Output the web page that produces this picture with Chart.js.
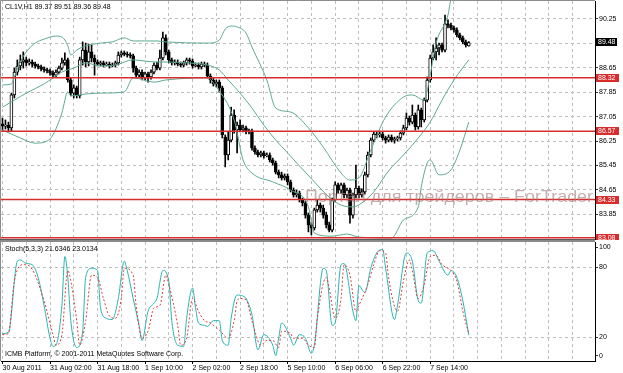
<!DOCTYPE html>
<html>
<head>
<meta charset="utf-8">
<title>CL1V,H1</title>
<script src="https://cdn.jsdelivr.net/npm/chart.js@4.4.1/dist/chart.umd.min.js"></script>
<style>
  body { margin: 0; background: #fff; }
  canvas { position: absolute; left: 0; }
  #priceCanvas { top: 0; }
  #stochCanvas { top: 240px; }
</style>
</head>
<body>
<canvas id="priceCanvas" width="623" height="240"></canvas>
<canvas id="stochCanvas" width="623" height="133"></canvas>
<script>
// CL1V H1 candles, one per hour (index 0 = first bar on the left)
const opens = [
  86.81, 86.74, 86.77, 86.68, 87.76, 88.51, 88.71, 88.84, 88.91, 88.81,
  88.84, 88.77, 88.71, 88.68, 88.61, 88.58, 88.55, 88.48, 88.41, 88.51,
  88.64, 88.81, 88.91, 88.25, 87.82, 87.99, 87.73, 88.91, 89.23, 88.84,
  89.17, 88.97, 88.84, 88.77, 88.81, 88.74, 88.77, 88.71, 88.74, 88.81,
  89.07, 89.14, 89.10, 89.07, 89.04, 88.64, 88.41, 88.51, 88.32, 88.45,
  88.35, 88.51, 88.74, 88.64, 88.97, 89.63, 89.17, 88.91, 88.81, 88.84,
  88.77, 88.74, 88.81, 88.91, 88.87, 88.71, 88.74, 88.68, 88.77, 88.74,
  88.38, 88.25, 88.12, 88.18, 87.99, 86.38, 85.79, 86.28, 87.10, 86.61,
  86.77, 86.61, 86.68, 86.55, 86.58, 86.02, 85.89, 85.79, 85.86, 85.76,
  85.79, 85.63, 85.53, 85.23, 85.14, 85.04, 85.10, 84.91, 84.64, 84.48,
  84.54, 84.32, 84.22, 83.82, 83.50, 83.40, 83.99, 84.15, 84.05, 83.82,
  83.50, 83.33, 84.32, 84.81, 84.64, 84.81, 84.48, 84.64, 83.82, 84.48,
  84.71, 84.48, 84.58, 85.14, 85.79, 86.28, 86.48, 86.45, 86.48, 86.35,
  86.28, 86.38, 86.28, 86.32, 86.35, 86.51, 86.68, 87.00, 86.87, 87.10,
  86.71, 87.27, 86.94, 87.59, 88.25, 88.97, 89.17, 89.30, 89.40, 89.23,
  90.09, 90.05, 89.96, 89.89, 89.73, 89.63, 89.50, 89.37
];
const highs = [
  87.00, 86.94, 86.87, 87.82, 88.64, 88.91, 89.07, 89.17, 89.00, 88.94,
  88.91, 88.84, 88.77, 88.74, 88.68, 88.64, 88.61, 88.55, 88.58, 88.71,
  88.97, 89.14, 88.97, 88.32, 88.09, 88.05, 89.00, 89.50, 89.46, 89.43,
  89.40, 89.07, 88.91, 88.87, 88.87, 88.84, 88.84, 88.81, 88.87, 89.17,
  89.20, 89.20, 89.17, 89.14, 89.10, 88.71, 88.58, 88.58, 88.51, 88.51,
  88.58, 88.81, 88.84, 89.23, 89.82, 89.73, 89.23, 88.97, 88.91, 88.91,
  88.84, 88.87, 88.97, 88.97, 88.94, 88.81, 88.81, 88.84, 88.84, 88.81,
  88.45, 88.32, 88.25, 88.25, 88.05, 86.45, 86.55, 87.36, 87.27, 86.87,
  86.94, 86.77, 86.74, 86.64, 86.64, 86.09, 85.95, 85.92, 85.92, 85.86,
  85.86, 85.69, 85.59, 85.30, 85.23, 85.17, 85.17, 84.97, 84.71, 84.64,
  84.61, 84.38, 84.28, 83.89, 83.59, 84.05, 84.32, 84.22, 84.15, 83.92,
  83.59, 84.38, 84.91, 84.87, 84.87, 84.87, 84.71, 84.71, 84.54, 85.46,
  84.77, 84.68, 85.23, 85.89, 86.35, 86.55, 86.55, 86.55, 86.55, 86.41,
  86.45, 86.45, 86.38, 86.41, 86.58, 86.77, 87.17, 87.07, 87.43, 87.17,
  87.43, 87.33, 87.66, 88.35, 89.07, 89.40, 89.63, 89.46, 89.46, 90.38,
  90.22, 90.12, 90.02, 89.96, 89.79, 89.69, 89.56, 89.51
];
const lows = [
  86.61, 86.64, 86.55, 86.58, 87.66, 88.41, 88.58, 88.64, 88.71, 88.74,
  88.68, 88.64, 88.61, 88.55, 88.51, 88.48, 88.41, 88.35, 88.35, 88.45,
  88.58, 88.74, 88.18, 87.73, 87.66, 87.66, 87.66, 88.74, 88.68, 88.71,
  88.84, 88.41, 88.71, 88.71, 88.68, 88.71, 88.64, 88.68, 88.68, 88.74,
  89.00, 89.04, 89.00, 88.97, 88.51, 88.32, 88.35, 88.25, 88.25, 88.18,
  88.28, 88.45, 88.58, 88.58, 88.91, 89.07, 88.81, 88.74, 88.74, 88.71,
  88.68, 88.68, 88.74, 88.77, 88.64, 88.68, 88.61, 88.61, 88.68, 88.32,
  88.15, 88.05, 88.02, 87.86, 86.35, 85.40, 85.63, 86.22, 86.51, 85.86,
  86.55, 86.55, 86.48, 86.48, 85.95, 85.82, 85.73, 85.73, 85.69, 85.73,
  85.56, 85.46, 85.17, 85.04, 84.97, 84.97, 84.81, 84.58, 84.41, 84.41,
  84.25, 84.12, 83.72, 83.27, 83.17, 83.33, 83.92, 83.92, 83.72, 83.40,
  83.27, 83.27, 84.25, 84.54, 84.54, 84.38, 84.38, 83.56, 83.72, 84.38,
  84.38, 84.41, 84.51, 85.07, 85.73, 86.22, 86.35, 86.38, 86.28, 86.18,
  86.22, 86.22, 86.18, 86.25, 86.28, 86.45, 86.61, 86.77, 86.81, 86.61,
  86.64, 86.71, 86.87, 87.53, 88.18, 88.91, 88.91, 89.07, 89.17, 89.17,
  89.96, 89.89, 89.82, 89.66, 89.56, 89.43, 89.33, 89.36
];
const closes = [
  86.74, 86.77, 86.68, 87.76, 88.51, 88.71, 88.84, 88.91, 88.81, 88.84,
  88.77, 88.71, 88.68, 88.61, 88.58, 88.55, 88.48, 88.41, 88.51, 88.64,
  88.81, 88.91, 88.25, 87.82, 87.99, 87.76, 88.91, 89.23, 88.84, 89.17,
  88.97, 88.84, 88.77, 88.81, 88.74, 88.77, 88.71, 88.74, 88.81, 89.07,
  89.14, 89.10, 89.07, 89.04, 88.64, 88.41, 88.51, 88.32, 88.45, 88.35,
  88.51, 88.74, 88.64, 88.97, 89.63, 89.17, 88.91, 88.81, 88.84, 88.77,
  88.74, 88.81, 88.91, 88.87, 88.71, 88.74, 88.68, 88.77, 88.74, 88.38,
  88.25, 88.12, 88.18, 87.99, 86.45, 85.79, 86.28, 87.10, 86.61, 86.77,
  86.61, 86.68, 86.55, 86.58, 86.02, 85.89, 85.79, 85.86, 85.76, 85.79,
  85.63, 85.53, 85.23, 85.14, 85.04, 85.10, 84.91, 84.64, 84.48, 84.54,
  84.32, 84.22, 83.82, 83.50, 83.40, 83.99, 84.15, 84.05, 83.82, 83.50,
  83.33, 84.32, 84.81, 84.64, 84.81, 84.48, 84.64, 83.82, 84.48, 84.71,
  84.48, 84.58, 85.14, 85.79, 86.28, 86.48, 86.45, 86.48, 86.35, 86.28,
  86.38, 86.28, 86.32, 86.35, 86.51, 86.68, 87.00, 86.87, 87.10, 86.71,
  87.27, 86.94, 87.59, 88.25, 88.97, 89.17, 89.30, 89.40, 89.23, 90.09,
  90.05, 89.96, 89.89, 89.73, 89.63, 89.50, 89.40, 89.48
];

// Bollinger lines: [bar index, price]
const bbUpper = [
  [0, 88.09], [3, 88.12], [4, 88.35], [6, 88.84], [8, 89.17], [11, 89.46], [14, 89.59],
  [18, 89.69], [20, 89.66], [22, 89.37], [23, 89.07], [25, 89.23], [28, 89.37], [33, 89.46],
  [37, 89.50], [41, 89.63], [44, 89.53], [52, 89.53], [55, 89.50], [69, 89.46], [73, 89.56],
  [75, 89.92], [77, 90.02], [79, 89.99], [82, 89.79], [84, 89.33], [89, 88.25], [92, 87.33],
  [97, 87.20], [103, 86.68], [108, 86.05], [114, 85.20], [117, 84.97], [120, 85.04],
  [124, 85.95], [129, 87.04], [135, 87.69], [138, 87.76], [142, 87.59], [144, 88.41],
  [146, 89.46], [150, 90.38], [151, 90.87], [157, 91.14]
];
const bbMiddle = [
  [0, 87.36], [4, 87.59], [8, 87.82], [14, 88.12], [20, 88.51], [24, 88.64], [28, 88.81],
  [33, 88.71], [38, 88.74], [44, 88.91], [48, 88.87], [52, 88.84], [56, 88.84], [62, 88.81],
  [69, 88.74], [73, 88.58], [76, 88.25], [80, 87.82], [84, 87.33], [88, 86.77], [92, 86.28],
  [96, 85.86], [100, 85.43], [105, 84.91], [110, 84.41], [114, 84.15], [118, 84.09],
  [121, 84.22], [125, 84.58], [130, 85.27], [135, 85.79], [140, 86.35], [144, 86.87],
  [148, 87.59], [152, 88.25], [157, 88.91]
];
const bbLower = [
  [0, 86.61], [3, 86.48], [6, 86.35], [11, 86.18], [15, 86.25], [17, 86.45], [20, 87.17],
  [22, 87.86], [23, 87.73], [28, 87.79], [33, 87.82], [41, 87.86], [44, 88.32], [51, 88.18],
  [55, 88.25], [69, 88.32], [72, 88.02], [78, 86.94], [81, 85.63], [84, 85.20], [91, 84.91],
  [97, 84.64], [103, 84.09], [105, 83.23], [111, 83.13], [116, 83.20], [120, 83.10],
  [131, 83.07], [135, 83.66], [140, 84.09], [141, 84.74], [143, 85.53], [144, 85.63],
  [147, 85.14], [151, 85.30], [154, 85.95], [157, 86.87]
];

const levels = [88.32, 86.57, 84.33, 83.08];
const lastPrice = 89.48;
const priceTicks = [83.85, 84.65, 85.45, 86.25, 87.05, 87.85, 88.65, 89.45, 90.25];

// Stochastic(5,3,3): [bar index, value]
const stochK = [
  [0, 23], [2, 24], [5, 85], [6, 86], [8, 83], [10, 82], [12, 71], [14, 47], [16, 19], [17, 12],
  [18, 13], [20, 47], [21, 89], [22, 71], [23, 34], [25, 11], [27, 25], [28, 71], [30, 79],
  [32, 77], [33, 45], [35, 36], [37, 35], [39, 53], [41, 85], [42, 77], [44, 53], [46, 30],
  [47, 17], [49, 42], [51, 49], [52, 53], [54, 77], [56, 68], [57, 34], [59, 13], [61, 12],
  [62, 36], [64, 62], [65, 45], [66, 32], [68, 30], [69, 29], [71, 34], [73, 34], [74, 17],
  [76, 13], [77, 36], [79, 56], [81, 55], [82, 53], [84, 39], [86, 9], [88, 22], [91, 13],
  [92, 4], [93, 19], [94, 32], [97, 19], [98, 13], [100, 22], [102, 19], [104, 6], [105, 13],
  [108, 79], [109, 77], [111, 30], [112, 32], [114, 82], [115, 83], [118, 42], [119, 34],
  [120, 64], [122, 58], [124, 79], [126, 92], [128, 95], [129, 79], [132, 35], [133, 47],
  [136, 92], [138, 85], [140, 51], [141, 49], [143, 92], [145, 94], [147, 85], [150, 73],
  [151, 77], [153, 71], [155, 51], [157, 21.63]
];
const stochD = [
  [0, 22], [2, 23], [4, 68], [7, 82], [9, 81], [11, 73], [14, 51], [17, 22], [18, 13], [20, 22],
  [22, 77], [23, 68], [25, 34], [26, 13], [28, 34], [30, 73], [32, 71], [34, 53], [36, 38],
  [38, 36], [40, 53], [41, 79], [44, 73], [45, 47], [47, 19], [49, 25], [51, 45], [53, 47],
  [55, 73], [56, 65], [59, 30], [60, 13], [62, 19], [64, 53], [66, 42], [68, 34], [70, 32],
  [72, 28], [73, 26], [76, 19], [78, 34], [79, 51], [80, 53], [82, 52], [84, 34], [87, 13],
  [89, 17], [91, 17], [93, 11], [94, 25], [97, 23], [98, 19], [101, 19], [103, 13], [105, 11],
  [106, 36], [109, 71], [110, 62], [112, 36], [114, 53], [115, 82], [117, 73], [119, 42],
  [120, 47], [123, 65], [125, 82], [127, 94], [129, 92], [130, 71], [133, 42], [135, 68],
  [137, 86], [138, 77], [140, 53], [142, 65], [144, 89], [146, 90], [148, 82], [151, 77],
  [153, 68], [155, 42], [157, 23.01]
];
const stochTicks = [3.97, 20, 80, 96.9];
const stochTickText = ['0', '20', '80', '100'];

const timeTickIndex = [0, 16, 32, 48, 64, 80, 96, 112, 128, 144];
const timeTickLabels = ['30 Aug 2011', '31 Aug 02:00', '31 Aug 18:00', '1 Sep 10:00', '2 Sep 02:00',
  '2 Sep 18:00', '5 Sep 10:00', '6 Sep 06:00', '6 Sep 22:00', '7 Sep 14:00'];

const TITLE = 'CL1V,H1 89.37 89.51 89.36 89.48';
const STOCH_TITLE = 'Stoch(5,3,3) 21.6346 23.0134';
const COPYRIGHT = 'ICMB Platform, \u00A9 2001-2011 MetaQuotes Software Corp.';
const WATERMARK = 'Портал для трейдеров \u2013 ForTrader';

const FONT = '"Liberation Sans", Arial, sans-serif';
const GRID = '#bebebe';
const BAND = 'rgb(95,170,140)';
const LEVEL_RED = 'rgb(215,45,45)';

Chart.defaults.font.family = FONT;
Chart.defaults.font.size = 7;

const toXY = pairs => pairs.map(p => ({ x: p[0], y: p[1] }));

function hourTicks(scale) {
  const t = [];
  for (let v = 0; v < 200; v += 8) t.push({ value: v });
  scale.ticks = t;
}

// price panel
const priceDecor = {
  id: 'priceDecor',
  afterDatasetsDraw(chart) {
    const ctx = chart.ctx;
    ctx.save();
    ctx.font = '17px ' + FONT;
    const w = ctx.measureText(WATERMARK).width;
    ctx.translate(305, 202);
    ctx.scale(288 / w, 1);
    ctx.fillStyle = 'rgba(160,120,120,0.6)';
    ctx.textBaseline = 'alphabetic';
    ctx.fillText(WATERMARK, 0, 0);
    ctx.restore();
  },
  afterDraw(chart) {
    const ctx = chart.ctx;
    const area = chart.chartArea;
    const y = chart.scales.y;
    ctx.save();
    ctx.lineWidth = 1;
    ctx.strokeStyle = '#8c8c8c';
    ctx.beginPath();
    ctx.moveTo(0.5, 240);
    ctx.lineTo(0.5, 0.5);
    ctx.lineTo(area.right, 0.5);
    ctx.stroke();
    ctx.strokeStyle = '#5c5c5c';
    ctx.beginPath();
    ctx.moveTo(0, 239.5);
    ctx.lineTo(area.right, 239.5);
    ctx.stroke();

    ctx.font = '7px ' + FONT;
    ctx.textBaseline = 'middle';
    ctx.textAlign = 'left';
    ctx.fillStyle = '#000';
    ctx.fillText(TITLE, 5, 7);

    const tag = (v, bg, w) => {
      const py = Math.round(y.getPixelForValue(v));
      ctx.fillStyle = bg;
      ctx.fillRect(area.right + 1, py - 4, w, 8);
      ctx.fillStyle = '#fff';
      ctx.fillText(v.toFixed(2), area.right + 3, py + 0.5);
    };
    levels.forEach(v => tag(v, LEVEL_RED, 23));
    tag(lastPrice, '#000', 21);
    ctx.restore();
  }
};

new Chart(document.getElementById('priceCanvas'), {
  type: 'bar',
  data: {
    datasets: [
      ...levels.map(lv => ({
        type: 'line', data: [{ x: -0.5, y: lv }, { x: 199.5, y: lv }],
        borderColor: LEVEL_RED, borderWidth: 1.5, pointRadius: 0, order: 0
      })),
      { type: 'line', data: toXY(bbUpper), borderColor: BAND, borderWidth: 1, pointRadius: 0, cubicInterpolationMode: 'monotone', order: 1 },
      { type: 'line', data: toXY(bbMiddle), borderColor: BAND, borderWidth: 1, pointRadius: 0, cubicInterpolationMode: 'monotone', order: 1 },
      { type: 'line', data: toXY(bbLower), borderColor: BAND, borderWidth: 1, pointRadius: 0, cubicInterpolationMode: 'monotone', order: 1 },
      {
        type: 'bar',
        data: closes.map((c, i) => ({ x: i, y: [Math.min(opens[i], c), Math.max(opens[i], c)] })),
        barThickness: 3, grouped: false, minBarLength: 1,
        backgroundColor: ctx => closes[ctx.dataIndex] >= opens[ctx.dataIndex] ? '#fff' : '#000',
        borderColor: '#000', borderWidth: 1, borderSkipped: false, order: 2
      },
      {
        type: 'bar',
        data: closes.map((c, i) => ({ x: i, y: [lows[i], highs[i]] })),
        barThickness: 1, grouped: false, backgroundColor: '#000', order: 3
      }
    ]
  },
  options: {
    responsive: false,
    animation: false,
    events: [],
    layout: { padding: { left: 1, top: 1, right: 0, bottom: 1 } },
    plugins: { legend: { display: false }, tooltip: { enabled: false } },
    scales: {
      x: {
        type: 'linear', min: -0.5, max: 199.5, bounds: 'data', offset: false,
        afterBuildTicks: hourTicks,
        afterFit: s => { s.height = 0; s.paddingLeft = 0; s.paddingRight = 0; },
        ticks: { display: false },
        grid: { color: GRID, drawTicks: false, offset: false },
        border: { display: false, dash: [3, 3] }
      },
      y: {
        position: 'right', min: 83.037, max: 90.84, bounds: 'data', beginAtZero: false,
        afterBuildTicks: s => { s.ticks = priceTicks.map(v => ({ value: v })); },
        afterFit: s => { s.width = 28; s.paddingTop = 0; s.paddingBottom = 0; },
        ticks: { color: '#000', padding: 1, autoSkip: false, font: { family: FONT, size: 7 }, callback: v => v.toFixed(2) },
        grid: { color: GRID, tickLength: 3, tickColor: '#333' },
        border: { display: true, color: '#000', dash: [3, 3] }
      }
    }
  },
  plugins: [priceDecor]
});

// stochastic panel
const stochDecor = {
  id: 'stochDecor',
  afterDraw(chart) {
    const ctx = chart.ctx;
    const area = chart.chartArea;
    ctx.save();
    ctx.fillStyle = '#8a8a8a';
    ctx.fillRect(0, 0, area.right, 2);
    ctx.strokeStyle = '#8c8c8c';
    ctx.lineWidth = 1;
    ctx.beginPath();
    ctx.moveTo(0.5, 2);
    ctx.lineTo(0.5, area.bottom);
    ctx.stroke();
    ctx.font = '7px ' + FONT;
    ctx.fillStyle = '#000';
    ctx.textBaseline = 'middle';
    ctx.textAlign = 'left';
    ctx.fillText(STOCH_TITLE, 5, 9.5);
    ctx.fillText(COPYRIGHT, 5, 114);
    ctx.restore();
  }
};

new Chart(document.getElementById('stochCanvas'), {
  type: 'line',
  data: {
    datasets: [
      { data: toXY(stochD), borderColor: 'rgb(225,60,60)', borderWidth: 1, borderDash: [2, 2], pointRadius: 0, cubicInterpolationMode: 'monotone' },
      { data: toXY(stochK), borderColor: 'rgb(40,180,175)', borderWidth: 1, pointRadius: 0, cubicInterpolationMode: 'monotone' }
    ]
  },
  options: {
    responsive: false,
    animation: false,
    events: [],
    layout: { padding: { left: 1, top: 2, right: 0, bottom: 0 } },
    plugins: { legend: { display: false }, tooltip: { enabled: false } },
    scales: {
      x: {
        type: 'linear', min: -0.5, max: 199.5, bounds: 'data', offset: false,
        afterBuildTicks: hourTicks,
        afterFit: s => { s.height = 12; s.paddingLeft = 0; s.paddingRight = 0; },
        ticks: {
          color: '#000', padding: 0, align: 'start', autoSkip: false, maxRotation: 0, minRotation: 0,
          font: { family: FONT, size: 7 },
          callback: v => { const k = timeTickIndex.indexOf(v); return k >= 0 ? timeTickLabels[k] : ''; }
        },
        grid: {
          color: GRID, offset: false, tickLength: 3,
          tickColor: c => (c.tick && timeTickIndex.includes(c.tick.value)) ? '#000' : 'rgba(0,0,0,0)'
        },
        border: { display: true, color: '#000', dash: [3, 3] }
      },
      y: {
        position: 'right', min: -0.57, max: 101.43, bounds: 'data',
        afterBuildTicks: s => { s.ticks = stochTicks.map(v => ({ value: v })); },
        afterFit: s => { s.width = 28; s.paddingTop = 0; s.paddingBottom = 0; },
        ticks: {
          color: '#000', padding: 1, autoSkip: false, font: { family: FONT, size: 7 },
          callback: v => stochTickText[stochTicks.indexOf(v)]
        },
        grid: {
          color: c => (c.tick && (c.tick.value === 20 || c.tick.value === 80)) ? GRID : 'rgba(0,0,0,0)',
          tickLength: 3, tickColor: '#333'
        },
        border: { display: true, color: '#000', dash: [3, 3] }
      }
    }
  },
  plugins: [stochDecor]
});
</script>
</body>
</html>
